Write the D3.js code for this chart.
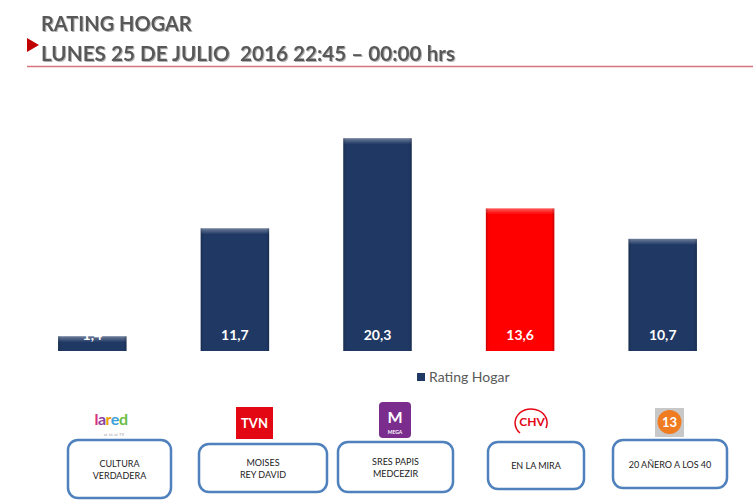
<!DOCTYPE html>
<html>
<head>
<meta charset="utf-8">
<script src="https://cdn.jsdelivr.net/npm/d3@7"></script>
<style>
  body { margin: 0; background: #fff; }
  svg { display: block; font-family: Lato, "Open Sans", sans-serif; }
  text { white-space: pre; }
</style>
</head>
<body>
<svg id="chart" width="753" height="504"></svg>
<script>
// data
var channels = ['La Red', 'TVN', 'Mega', 'CHV', 'Canal 13'];
var ratings = [1.4, 11.7, 20.3, 13.6, 10.7];
var programs = [
  ['CULTURA', 'VERDADERA'],
  ['MOISES', 'REY DAVID'],
  ['SRES PAPIS', 'MEDCEZIR'],
  ['EN LA MIRA'],
  ['20 AÑERO A LOS 40']
];
var seriesName = 'Rating Hogar';

var width = 753, height = 504;
var navy = '#1f3864', red = '#ff0000';

var svg = d3.select('#chart');

// gradients for the bevel look of the bars
var defs = svg.append('defs');
var topGrad = defs.append('linearGradient').attr('id', 'topHi')
  .attr('x1', 0).attr('y1', 0).attr('x2', 0).attr('y2', 1);
topGrad.append('stop').attr('offset', '0%').attr('stop-color', '#fff').attr('stop-opacity', 0.35);
topGrad.append('stop').attr('offset', '100%').attr('stop-color', '#fff').attr('stop-opacity', 0);
var leftGrad = defs.append('linearGradient').attr('id', 'sideL')
  .attr('x1', 0).attr('y1', 0).attr('x2', 1).attr('y2', 0);
leftGrad.append('stop').attr('offset', '0%').attr('stop-color', '#000').attr('stop-opacity', 0.2);
leftGrad.append('stop').attr('offset', '100%').attr('stop-color', '#000').attr('stop-opacity', 0);
var rightGrad = defs.append('linearGradient').attr('id', 'sideR')
  .attr('x1', 1).attr('y1', 0).attr('x2', 0).attr('y2', 0);
rightGrad.append('stop').attr('offset', '0%').attr('stop-color', '#000').attr('stop-opacity', 0.2);
rightGrad.append('stop').attr('offset', '100%').attr('stop-color', '#000').attr('stop-opacity', 0);
var shadow = defs.append('filter').attr('id', 'txtShadow');
shadow.append('feDropShadow').attr('dx', 1).attr('dy', 1).attr('stdDeviation', 0.6)
  .attr('flood-color', '#000').attr('flood-opacity', 0.3);

// ---- title ----
svg.append('text').attr('x', 41).attr('y', 31)
  .attr('font-size', 20).attr('font-weight', 'bold').attr('fill', '#595959')
  .attr('filter', 'url(#txtShadow)')
  .text('RATING HOGAR');
svg.append('path').attr('d', 'M27,38 L39,45 L27,52 Z').attr('fill', '#c00000');
svg.append('text').attr('x', 41).attr('y', 61)
  .attr('font-size', 20.7).attr('font-weight', 'bold').attr('fill', '#595959')
  .attr('filter', 'url(#txtShadow)')
  .text('LUNES 25 DE JULIO  2016 22:45 \u2013 00:00 hrs');
svg.append('line').attr('x1', 27).attr('x2', width).attr('y1', 66.5).attr('y2', 66.5)
  .attr('stroke', '#d6737b').attr('stroke-width', 1.5);

// ---- scales ----
var x = d3.scaleBand().domain(channels).range([21, 734]).paddingInner(0.52).paddingOuter(0.26);
var y = d3.scaleLinear().domain([0, 25]).range([351, 89]);

var bars = svg.append('g').selectAll('g').data(channels).enter().append('g');

bars.append('rect')
  .attr('x', function(d) { return x(d); })
  .attr('y', function(d, i) { return y(ratings[i]); })
  .attr('width', x.bandwidth())
  .attr('height', function(d, i) { return y(0) - y(ratings[i]); })
  .attr('fill', function(d, i) { return i === 3 ? red : navy; });

// bevel highlights
bars.append('rect')
  .attr('x', function(d) { return x(d); })
  .attr('y', function(d, i) { return y(ratings[i]); })
  .attr('width', x.bandwidth())
  .attr('height', function(d, i) { return Math.min(6, y(0) - y(ratings[i])); })
  .attr('fill', 'url(#topHi)');
bars.append('rect')
  .attr('x', function(d) { return x(d); })
  .attr('y', function(d, i) { return y(ratings[i]); })
  .attr('width', 3)
  .attr('height', function(d, i) { return y(0) - y(ratings[i]); })
  .attr('fill', 'url(#sideL)');
bars.append('rect')
  .attr('x', function(d) { return x(d) + x.bandwidth() - 3; })
  .attr('y', function(d, i) { return y(ratings[i]); })
  .attr('width', 3)
  .attr('height', function(d, i) { return y(0) - y(ratings[i]); })
  .attr('fill', 'url(#sideR)');

// value labels inside the bar bottom
bars.append('text')
  .attr('x', function(d) { return x(d) + x.bandwidth() / 2; })
  .attr('y', 340)
  .attr('text-anchor', 'middle')
  .attr('font-size', 14).attr('font-weight', 'bold').attr('fill', '#fff')
  .text(function(d, i) { return d3.format('.1f')(ratings[i]).replace('.', ','); });

// ---- legend ----
var legend = svg.append('g').attr('transform', 'translate(417,373)');
legend.append('rect').attr('width', 8).attr('height', 8).attr('fill', navy);
legend.append('text').attr('x', 12).attr('y', 9)
  .attr('font-size', 14).attr('fill', '#595959').text(seriesName);

// ---- channel logos (drawn approximations) ----
var logos = svg.append('g');
// la red
var lr = logos.append('text').attr('x', 111).attr('y', 425).attr('text-anchor', 'middle')
  .attr('font-size', 16).attr('font-weight', 'bold').attr('letter-spacing', -0.5);
[['l', '#d6337a'], ['a', '#8b3fa0'], ['r', '#f0a000'], ['e', '#3aa0d8'], ['d', '#6bbd45']].forEach(function(c) {
  lr.append('tspan').attr('fill', c[1]).text(c[0]);
});
logos.append('text').attr('x', 114).attr('y', 436).attr('text-anchor', 'middle')
  .attr('font-size', 4).attr('fill', '#999').text('sé tú, sé TV');
// TVN
logos.append('rect').attr('x', 236).attr('y', 407).attr('width', 37).attr('height', 32).attr('fill', '#e30613');
logos.append('text').attr('x', 254.5).attr('y', 428).attr('text-anchor', 'middle')
  .attr('font-size', 13).attr('font-weight', 'bold').attr('fill', '#fff').text('TVN');
// Mega
logos.append('rect').attr('x', 379).attr('y', 402).attr('width', 32).attr('height', 36).attr('rx', 4)
  .attr('fill', '#7b2d8e');
logos.append('text').attr('x', 395).attr('y', 423).attr('text-anchor', 'middle')
  .attr('font-size', 16).attr('font-weight', 'bold').attr('fill', '#fff').text('M');
logos.append('text').attr('x', 395).attr('y', 434).attr('text-anchor', 'middle')
  .attr('font-size', 5).attr('font-weight', 'bold').attr('fill', '#fff').text('MEGA');
// CHV
logos.append('path').attr('d', 'M520,433 A16,14 0 1 1 546,428')
  .attr('fill', 'none').attr('stroke', '#e30613').attr('stroke-width', 1.5);
logos.append('text').attr('x', 532).attr('y', 426).attr('text-anchor', 'middle')
  .attr('font-size', 12).attr('font-weight', 'bold').attr('fill', '#e30613').text('CHV');
// 13
logos.append('rect').attr('x', 655).attr('y', 408).attr('width', 29).attr('height', 29).attr('fill', '#c8c8c8');
logos.append('circle').attr('cx', 669.5).attr('cy', 422).attr('r', 12).attr('fill', '#f07c22');
logos.append('text').attr('x', 669.5).attr('y', 427).attr('text-anchor', 'middle')
  .attr('font-size', 13).attr('font-weight', 'bold').attr('fill', '#fff').text('13');

// ---- program boxes ----
var boxes = [
  { x: 68, y: 440, w: 103, h: 58 },
  { x: 199, y: 444, w: 128, h: 48 },
  { x: 338, y: 442, w: 115, h: 50 },
  { x: 488, y: 442, w: 96, h: 47 },
  { x: 613, y: 440, w: 114, h: 48 }
];
var bx = svg.append('g').selectAll('g').data(programs).enter().append('g');
bx.append('rect')
  .attr('x', function(d, i) { return boxes[i].x; })
  .attr('y', function(d, i) { return boxes[i].y; })
  .attr('width', function(d, i) { return boxes[i].w; })
  .attr('height', function(d, i) { return boxes[i].h; })
  .attr('rx', 10)
  .attr('fill', '#fff').attr('stroke', '#4f81bd').attr('stroke-width', 2.5);
bx.each(function(lines, i) {
  var b = boxes[i];
  var cy = b.y + b.h / 2;
  var lh = 12;
  d3.select(this).selectAll('text').data(lines).enter().append('text')
    .attr('x', b.x + b.w / 2)
    .attr('y', function(t, j) { return cy + (j - (lines.length - 1) / 2) * lh + 3.5; })
    .attr('text-anchor', 'middle')
    .attr('font-size', 9).attr('fill', '#222')
    .text(function(t) { return t; });
});
</script>
</body>
</html>
